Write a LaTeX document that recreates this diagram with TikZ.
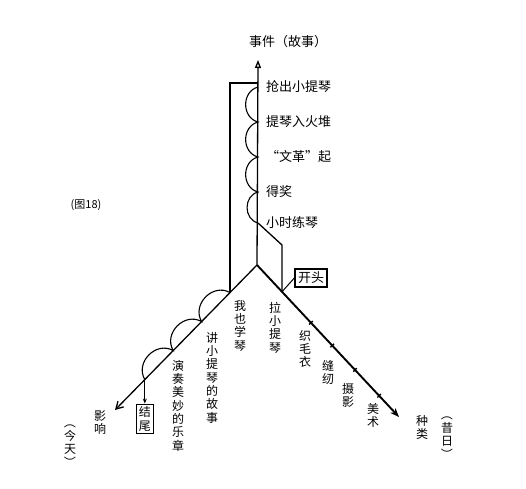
\documentclass[tikz,border=0pt]{standalone}
\usepackage{fontspec}
\usepackage{graphicx}
\newfontfamily\cjk{Noto Sans CJK SC}
\usetikzlibrary{positioning,arrows.meta}
\newcommand{\vopen}{\rotatebox[origin=c]{-90}{（}}
\newcommand{\vclose}{\rotatebox[origin=c]{-90}{）}}

\begin{document}
\begin{tikzpicture}[x=1pt,y=-1pt,
  axis/.style={line width=1.3pt},
  hump/.style={line width=1.1pt, bend right=75, looseness=1.25},
  hlabel/.style={inner sep=0pt, font=\cjk\fontsize{13}{13}\selectfont},
  vlabel/.style={anchor=north, inner sep=0pt, align=center, font=\cjk\fontsize{12}{13.3}\selectfont},
  tag/.style={draw, line width=1.3pt, inner sep=2.5pt, align=center, font=\cjk\fontsize{12}{13.3}\selectfont},
  tick/.style={sloped, fill, inner sep=0pt, minimum width=1.4pt, minimum height=5pt}]
\useasboundingbox (0,0) rectangle (526,488);

% axes
\coordinate (origin) at (257,265);
\coordinate (top) at (258,60);
\coordinate (today) at (115,410);
\coordinate (past) at (399,417);

\draw [axis, -{Triangle[open, length=8pt, width=6pt]}] (origin) -- (top);
\draw [axis, -{Straight Barb[length=7pt, width=8pt]}] (origin) -- (today);
\draw [line width=1.9pt, -{Stealth[length=9pt, width=7pt]}] (origin) -- (past)
  \foreach \p in {0.38,0.53,0.69,0.86} {node[tick, pos=\p] {}};

\node [hlabel] (title) at (288,42) {事件（故事）};
\node [hlabel, font=\cjk\fontsize{11}{11}\selectfont] (fig) at (86,205) {(图18)};

% events on the upright axis
\coordinate (e0) at (258,83);
\coordinate (e1) at (258,87);
\coordinate (e2) at (258,122);
\coordinate (e3) at (258,157);
\coordinate (e4) at (258,192);
\coordinate (e5) at (258,223);
\draw [hump] (e1) to (e2) to (e3) to (e4) to (e5);

\node [hlabel, anchor=west, right=8pt of e1] (ev1) {抢出小提琴};
\node [hlabel, anchor=west, right=8pt of e2] (ev2) {提琴入火堆};
\node [hlabel, anchor=west, right=8pt of e3] (ev3) {“文革”起};
\node [hlabel, anchor=west, right=8pt of e4] (ev4) {得奖};
\node [hlabel, anchor=west, right=8pt of e5] (ev5) {小时练琴};

% influence side
\path (origin) -- (today) coordinate[pos=0.19] (w1) coordinate[pos=0.39] (w2)
  coordinate[pos=0.59] (w3) coordinate[pos=0.79] (w4);
\draw [hump] (w1) to (w2) to (w3) to (w4);
\draw [axis] (w1) -- (w1 |- e0) -- (e0);

\node [tag, below=24pt of w4] (jiewei) {结\\尾};
\draw [line width=1.1pt, -{Stealth[length=5pt, width=4pt]}] (w4) -- (jiewei);

% beginning
\path (origin) -- (past) coordinate[pos=0.176] (r0);
\coordinate (bend) at (282,245);
\draw [axis] (e5) -- (bend) -- (r0);
\node [tag, inner sep=3pt, font=\cjk\fontsize{13}{13}\selectfont] (kaitou) at (311,278) {开头};
\draw [line width=1pt] (kaitou.west) -- (r0);

% column labels
\node [vlabel] (l1) at (240,300) {我\\也\\学\\琴};
\node [vlabel] (l2) at (212,332) {讲\\小\\提\\琴\\的\\故\\事};
\node [vlabel] (l3) at (178,360) {演\\奏\\美\\妙\\的\\乐\\章};
\node [vlabel] (l4) at (100,410) {影\\响};
\node [vlabel] (l5) at (70,416) {\vopen\\今\\天\\\vclose};

\node [vlabel] (k1) at (275,302) {拉\\小\\提\\琴};
\node [vlabel] (k2) at (305,330) {织\\毛\\衣};
\node [vlabel] (k3) at (328,360) {缝\\纫};
\node [vlabel] (k4) at (348,383) {摄\\影};
\node [vlabel] (k5) at (373,403) {美\\术};
\node [vlabel] (k6) at (422,415) {种\\类};
\node [vlabel] (k7) at (447,408) {\vopen\\昔\\日\\\vclose};
\end{tikzpicture}
\end{document}
